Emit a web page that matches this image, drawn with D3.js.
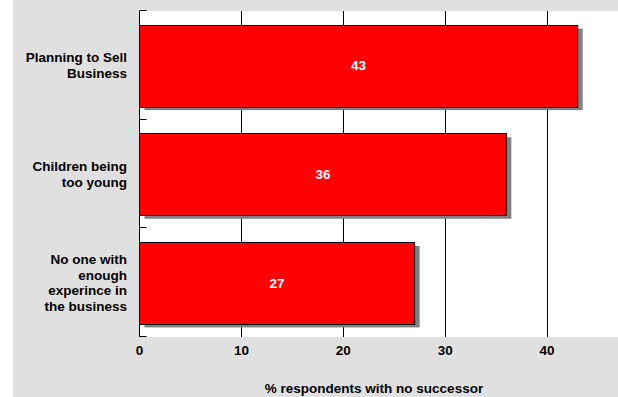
<!DOCTYPE html>
<html>
<head>
<meta charset="utf-8">
<script src="https://cdn.jsdelivr.net/npm/d3@7"></script>
<style>
body { margin: 0; padding: 0; background: #ffffff; }
svg { display: block; }
text { font-family: Arial, "Liberation Sans", sans-serif; font-weight: bold; }
</style>
</head>
<body>
<script>
var categories = [
    ["Planning to Sell", "Business"],
    ["Children being", "too young"],
    ["No one with", "enough", "experince in", "the business"]
];
var values = [43, 36, 27];
var xTicks = [0, 10, 20, 30, 40];
var axisTitle = "% respondents with no successor";

var width = 618;
var height = 397;
var pLeft = 139.5, pRight = 618, pTop = 11, pBottom = 337;

var svg = d3.select("body")
            .append("svg")
            .attr("width", width)
            .attr("height", height);

// grey page with white strip on the left
svg.append("rect").attr("x", 13).attr("y", 0).attr("width", width - 13).attr("height", height)
    .attr("fill", "#e0e0e0");
svg.append("rect").attr("x", pLeft).attr("y", pTop).attr("width", pRight - pLeft).attr("height", pBottom - pTop)
    .attr("fill", "#ffffff");

var x = d3.scaleLinear()
          .domain([0, 47])
          .range([pLeft, pLeft + 47 * 10.19]);

var y = d3.scaleBand()
          .domain(d3.range(values.length))
          .range([pTop, pBottom])
          .paddingInner(0.25)
          .paddingOuter(0.125);

// vertical grid lines
svg.append("g").selectAll("line")
    .data(xTicks.slice(1)).enter().append("line")
    .attr("x1", function(d){ return Math.round(x(d)) + 0.5; })
    .attr("x2", function(d){ return Math.round(x(d)) + 0.5; })
    .attr("y1", pTop)
    .attr("y2", pBottom)
    .attr("stroke", "#000000")
    .attr("stroke-width", 1);

// shadows
svg.append("g").selectAll("rect")
    .data(values).enter().append("rect")
    .attr("x", x(0) + 5)
    .attr("y", function(d, i){ return y(i) + 4; })
    .attr("width", function(d){ return x(d) - x(0); })
    .attr("height", y.bandwidth())
    .attr("fill", "#808080");

// bars
svg.append("g").selectAll("rect")
    .data(values).enter().append("rect")
    .attr("x", x(0))
    .attr("y", function(d, i){ return Math.round(y(i)) + 0.5; })
    .attr("width", function(d){ return x(d) - x(0); })
    .attr("height", Math.round(y.bandwidth()))
    .attr("fill", "#ff0000")
    .attr("stroke", "#000000")
    .attr("stroke-width", 1);

// value labels
svg.append("g").selectAll("text")
    .data(values).enter().append("text")
    .attr("x", function(d){ return (x(0) + x(d)) / 2; })
    .attr("y", function(d, i){ return y(i) + y.bandwidth() / 2 + 5; })
    .attr("text-anchor", "middle")
    .attr("fill", "#ffffff")
    .style("font-size", "13.5px")
    .text(function(d){ return d; });

// y axis line and category boundary ticks
svg.append("line").attr("x1", pLeft).attr("x2", pLeft).attr("y1", pTop).attr("y2", pBottom)
    .attr("stroke", "#000000").attr("stroke-width", 1);
svg.append("g").selectAll("line")
    .data(d3.range(values.length + 1)).enter().append("line")
    .attr("x1", pLeft)
    .attr("x2", pLeft + 7)
    .attr("y1", function(d){ return Math.round(pTop + d * y.step()) - 0.5; })
    .attr("y2", function(d){ return Math.round(pTop + d * y.step()) - 0.5; })
    .attr("stroke", "#000000")
    .attr("stroke-width", 1);

// category labels
var lineH = 15.5;
categories.forEach(function(lines, i){
    var cy = y(i) + y.bandwidth() / 2;
    var t = svg.append("text")
        .attr("text-anchor", "end")
        .attr("fill", "#000000")
        .style("font-size", "13.5px");
    lines.forEach(function(s, j){
        t.append("tspan")
            .attr("x", 127)
            .attr("y", cy + (j - (lines.length - 1) / 2) * lineH + 4.8)
            .text(s);
    });
});

// x tick labels
svg.append("g").selectAll("text")
    .data(xTicks).enter().append("text")
    .attr("x", function(d){ return x(d); })
    .attr("y", 355)
    .attr("text-anchor", "middle")
    .attr("fill", "#000000")
    .style("font-size", "13.5px")
    .text(function(d){ return d; });

// x axis title
svg.append("text")
    .attr("x", 374)
    .attr("y", 393)
    .attr("text-anchor", "middle")
    .attr("fill", "#000000")
    .style("font-size", "13.5px")
    .text(axisTitle);
</script>
</body>
</html>
